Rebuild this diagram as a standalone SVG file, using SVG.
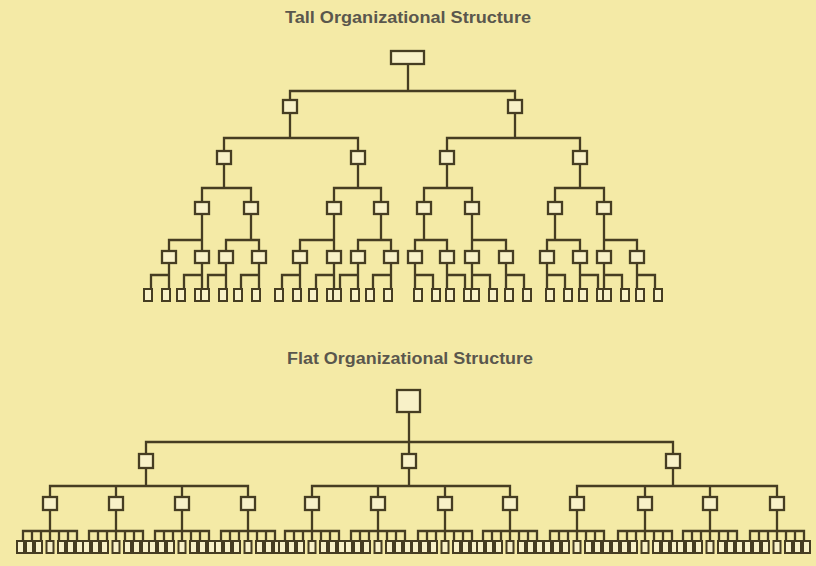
<svg xmlns="http://www.w3.org/2000/svg" width="816" height="566" viewBox="0 0 816 566">
<style>
.bg{fill:#f4eaa6}
.n{fill:#f8f1c8;stroke:#463d22;stroke-width:2.3}
.lf{fill:#f8f1c8;stroke:#463d22;stroke-width:2}
.c{fill:none;stroke:#463d22;stroke-width:2.3}
.t{font-family:"Liberation Sans",Arial,sans-serif;font-weight:bold;font-size:16px;fill:#5a574d;text-anchor:middle}
</style>
<rect class="bg" x="0" y="0" width="816" height="566"/>
<text class="t" x="408" y="23" textLength="246" lengthAdjust="spacingAndGlyphs">Tall Organizational Structure</text>
<text class="t" x="410" y="364" textLength="246" lengthAdjust="spacingAndGlyphs">Flat Organizational Structure</text>

<g id="connectors">
<path class="c" d="M408 64V91M290 100V91H515V100"/>
<path class="c" d="M290 113V138M224 151V138H358V151M515 113V138M447 151V138H580V151"/>
<path class="c" d="M224 164V188M202 202V188H251V202M358 164V188M334 202V188H381V202M447 164V188M424 202V188H472V202M580 164V188M555 202V188H604V202"/>
<path class="c" d="M202 214V240M169 251V240H202V251M251 214V240M226 251V240H259V251M334 214V240M300 251V240H334V251M381 214V240M358 251V240H391V251M424 214V240M415 251V240H447V251M472 214V240M472 251V240H506V251M555 214V240M547 251V240H580V251M604 214V240M604 251V240H637V251"/>
<path class="c" d="M169 263V289M151 289V275H169M202 263V289M184 289V275H202M226 263V289M208 289V275H226M259 263V289M241 289V275H259M300 263V289M282 289V275H300M334 263V289M316 289V275H334M358 263V289M340 289V275H358M391 263V289M373 289V275H391"/>
<path class="c" d="M415 263V289M433 289V275H415M447 263V289M465 289V275H447M472 263V289M490 289V275H472M506 263V289M524 289V275H506M547 263V289M565 289V275H547M580 263V289M598 289V275H580M604 263V289M622 289V275H604M637 263V289M655 289V275H637"/>
<path class="c" d="M409 412V442M146 454V442H673V454M409 442V454"/>
<path class="c" d="M146 468V486M50 497V486H248V497M116 486V497M182 486V497M409 468V486M312 497V486H510V497M378 486V497M445 486V497M673 468V486M577 497V486H777V497M645 486V497M710 486V497"/>
<path class="c" d="M50 510V541M23 541V531H77V541M32 531V541M41 531V541M59 531V541M68 531V541
M116 510V541M89 541V531H143V541M98 531V541M107 531V541M125 531V541M134 531V541
M182 510V541M155 541V531H209V541M164 531V541M173 531V541M191 531V541M200 531V541
M248 510V541M221 541V531H275V541M230 531V541M239 531V541M257 531V541M266 531V541
M312 510V541M285 541V531H339V541M294 531V541M303 531V541M321 531V541M330 531V541
M378 510V541M351 541V531H405V541M360 531V541M369 531V541M387 531V541M396 531V541
M445 510V541M418 541V531H472V541M427 531V541M436 531V541M454 531V541M463 531V541
M510 510V541M483 541V531H537V541M492 531V541M501 531V541M519 531V541M528 531V541
M577 510V541M550 541V531H604V541M559 531V541M568 531V541M586 531V541M595 531V541
M645 510V541M618 541V531H672V541M627 531V541M636 531V541M654 531V541M663 531V541
M710 510V541M683 541V531H737V541M692 531V541M701 531V541M719 531V541M728 531V541
M777 510V541M750 541V531H804V541M759 531V541M768 531V541M786 531V541M795 531V541"/>
</g>

<g id="t-root"><rect class="n" x="391" y="51" width="33" height="13"/></g>
<g id="t-1-1"><rect class="n" x="283" y="100" width="14" height="13"/></g>
<g id="t-1-2"><rect class="n" x="508" y="100" width="14" height="13"/></g>
<g id="t-2-1"><rect class="n" x="217" y="151" width="14" height="13"/></g>
<g id="t-2-2"><rect class="n" x="351" y="151" width="14" height="13"/></g>
<g id="t-2-3"><rect class="n" x="440" y="151" width="14" height="13"/></g>
<g id="t-2-4"><rect class="n" x="573" y="151" width="14" height="13"/></g>
<g id="t-3-1"><rect class="n" x="195" y="202" width="14" height="12"/></g>
<g id="t-3-2"><rect class="n" x="244" y="202" width="14" height="12"/></g>
<g id="t-3-3"><rect class="n" x="327" y="202" width="14" height="12"/></g>
<g id="t-3-4"><rect class="n" x="374" y="202" width="14" height="12"/></g>
<g id="t-3-5"><rect class="n" x="417" y="202" width="14" height="12"/></g>
<g id="t-3-6"><rect class="n" x="465" y="202" width="14" height="12"/></g>
<g id="t-3-7"><rect class="n" x="548" y="202" width="14" height="12"/></g>
<g id="t-3-8"><rect class="n" x="597" y="202" width="14" height="12"/></g>
<g id="t-4-1"><rect class="n" x="162" y="251" width="14" height="12"/></g>
<g id="t-4-2"><rect class="n" x="195" y="251" width="14" height="12"/></g>
<g id="t-4-3"><rect class="n" x="219" y="251" width="14" height="12"/></g>
<g id="t-4-4"><rect class="n" x="252" y="251" width="14" height="12"/></g>
<g id="t-4-5"><rect class="n" x="293" y="251" width="14" height="12"/></g>
<g id="t-4-6"><rect class="n" x="327" y="251" width="14" height="12"/></g>
<g id="t-4-7"><rect class="n" x="351" y="251" width="14" height="12"/></g>
<g id="t-4-8"><rect class="n" x="384" y="251" width="14" height="12"/></g>
<g id="t-4-9"><rect class="n" x="408" y="251" width="14" height="12"/></g>
<g id="t-4-10"><rect class="n" x="440" y="251" width="14" height="12"/></g>
<g id="t-4-11"><rect class="n" x="465" y="251" width="14" height="12"/></g>
<g id="t-4-12"><rect class="n" x="499" y="251" width="14" height="12"/></g>
<g id="t-4-13"><rect class="n" x="540" y="251" width="14" height="12"/></g>
<g id="t-4-14"><rect class="n" x="573" y="251" width="14" height="12"/></g>
<g id="t-4-15"><rect class="n" x="597" y="251" width="14" height="12"/></g>
<g id="t-4-16"><rect class="n" x="630" y="251" width="14" height="12"/></g>
<g id="t-5-1"><rect class="lf" x="144" y="289" width="8" height="12"/></g>
<g id="t-5-2"><rect class="lf" x="162" y="289" width="8" height="12"/></g>
<g id="t-5-3"><rect class="lf" x="177" y="289" width="8" height="12"/></g>
<g id="t-5-4"><rect class="lf" x="195" y="289" width="8" height="12"/></g>
<g id="t-5-5"><rect class="lf" x="201" y="289" width="8" height="12"/></g>
<g id="t-5-6"><rect class="lf" x="219" y="289" width="8" height="12"/></g>
<g id="t-5-7"><rect class="lf" x="234" y="289" width="8" height="12"/></g>
<g id="t-5-8"><rect class="lf" x="252" y="289" width="8" height="12"/></g>
<g id="t-5-9"><rect class="lf" x="275" y="289" width="8" height="12"/></g>
<g id="t-5-10"><rect class="lf" x="293" y="289" width="8" height="12"/></g>
<g id="t-5-11"><rect class="lf" x="309" y="289" width="8" height="12"/></g>
<g id="t-5-12"><rect class="lf" x="327" y="289" width="8" height="12"/></g>
<g id="t-5-13"><rect class="lf" x="333" y="289" width="8" height="12"/></g>
<g id="t-5-14"><rect class="lf" x="351" y="289" width="8" height="12"/></g>
<g id="t-5-15"><rect class="lf" x="366" y="289" width="8" height="12"/></g>
<g id="t-5-16"><rect class="lf" x="384" y="289" width="8" height="12"/></g>
<g id="t-5-17"><rect class="lf" x="414" y="289" width="8" height="12"/></g>
<g id="t-5-18"><rect class="lf" x="432" y="289" width="8" height="12"/></g>
<g id="t-5-19"><rect class="lf" x="446" y="289" width="8" height="12"/></g>
<g id="t-5-20"><rect class="lf" x="464" y="289" width="8" height="12"/></g>
<g id="t-5-21"><rect class="lf" x="471" y="289" width="8" height="12"/></g>
<g id="t-5-22"><rect class="lf" x="489" y="289" width="8" height="12"/></g>
<g id="t-5-23"><rect class="lf" x="505" y="289" width="8" height="12"/></g>
<g id="t-5-24"><rect class="lf" x="523" y="289" width="8" height="12"/></g>
<g id="t-5-25"><rect class="lf" x="546" y="289" width="8" height="12"/></g>
<g id="t-5-26"><rect class="lf" x="564" y="289" width="8" height="12"/></g>
<g id="t-5-27"><rect class="lf" x="579" y="289" width="8" height="12"/></g>
<g id="t-5-28"><rect class="lf" x="597" y="289" width="8" height="12"/></g>
<g id="t-5-29"><rect class="lf" x="603" y="289" width="8" height="12"/></g>
<g id="t-5-30"><rect class="lf" x="621" y="289" width="8" height="12"/></g>
<g id="t-5-31"><rect class="lf" x="636" y="289" width="8" height="12"/></g>
<g id="t-5-32"><rect class="lf" x="654" y="289" width="8" height="12"/></g>

<g id="f-root"><rect class="n" x="397" y="390" width="23" height="22"/></g>
<g id="f-1-1"><rect class="n" x="139" y="454" width="14" height="14"/></g>
<g id="f-1-2"><rect class="n" x="402" y="454" width="14" height="14"/></g>
<g id="f-1-3"><rect class="n" x="666" y="454" width="14" height="14"/></g>
<g id="f-2-1"><rect class="n" x="43" y="497" width="14" height="13"/></g>
<g id="f-2-2"><rect class="n" x="109" y="497" width="14" height="13"/></g>
<g id="f-2-3"><rect class="n" x="175" y="497" width="14" height="13"/></g>
<g id="f-2-4"><rect class="n" x="241" y="497" width="14" height="13"/></g>
<g id="f-2-5"><rect class="n" x="305" y="497" width="14" height="13"/></g>
<g id="f-2-6"><rect class="n" x="371" y="497" width="14" height="13"/></g>
<g id="f-2-7"><rect class="n" x="438" y="497" width="14" height="13"/></g>
<g id="f-2-8"><rect class="n" x="503" y="497" width="14" height="13"/></g>
<g id="f-2-9"><rect class="n" x="570" y="497" width="14" height="13"/></g>
<g id="f-2-10"><rect class="n" x="638" y="497" width="14" height="13"/></g>
<g id="f-2-11"><rect class="n" x="703" y="497" width="14" height="13"/></g>
<g id="f-2-12"><rect class="n" x="770" y="497" width="14" height="13"/></g>
<g id="f-3-1"><rect class="lf" x="17" y="541" width="7" height="12"/></g>
<g id="f-3-2"><rect class="lf" x="26" y="541" width="7" height="12"/></g>
<g id="f-3-3"><rect class="lf" x="35" y="541" width="7" height="12"/></g>
<g id="f-3-4"><rect class="lf" x="46.5" y="541" width="7" height="12"/></g>
<g id="f-3-5"><rect class="lf" x="58" y="541" width="7" height="12"/></g>
<g id="f-3-6"><rect class="lf" x="67" y="541" width="7" height="12"/></g>
<g id="f-3-7"><rect class="lf" x="76" y="541" width="7" height="12"/></g>
<g id="f-3-8"><rect class="lf" x="83" y="541" width="7" height="12"/></g>
<g id="f-3-9"><rect class="lf" x="92" y="541" width="7" height="12"/></g>
<g id="f-3-10"><rect class="lf" x="101" y="541" width="7" height="12"/></g>
<g id="f-3-11"><rect class="lf" x="112.5" y="541" width="7" height="12"/></g>
<g id="f-3-12"><rect class="lf" x="124" y="541" width="7" height="12"/></g>
<g id="f-3-13"><rect class="lf" x="133" y="541" width="7" height="12"/></g>
<g id="f-3-14"><rect class="lf" x="142" y="541" width="7" height="12"/></g>
<g id="f-3-15"><rect class="lf" x="149" y="541" width="7" height="12"/></g>
<g id="f-3-16"><rect class="lf" x="158" y="541" width="7" height="12"/></g>
<g id="f-3-17"><rect class="lf" x="167" y="541" width="7" height="12"/></g>
<g id="f-3-18"><rect class="lf" x="178.5" y="541" width="7" height="12"/></g>
<g id="f-3-19"><rect class="lf" x="190" y="541" width="7" height="12"/></g>
<g id="f-3-20"><rect class="lf" x="199" y="541" width="7" height="12"/></g>
<g id="f-3-21"><rect class="lf" x="208" y="541" width="7" height="12"/></g>
<g id="f-3-22"><rect class="lf" x="215" y="541" width="7" height="12"/></g>
<g id="f-3-23"><rect class="lf" x="224" y="541" width="7" height="12"/></g>
<g id="f-3-24"><rect class="lf" x="233" y="541" width="7" height="12"/></g>
<g id="f-3-25"><rect class="lf" x="244.5" y="541" width="7" height="12"/></g>
<g id="f-3-26"><rect class="lf" x="256" y="541" width="7" height="12"/></g>
<g id="f-3-27"><rect class="lf" x="265" y="541" width="7" height="12"/></g>
<g id="f-3-28"><rect class="lf" x="274" y="541" width="7" height="12"/></g>
<g id="f-3-29"><rect class="lf" x="279" y="541" width="7" height="12"/></g>
<g id="f-3-30"><rect class="lf" x="288" y="541" width="7" height="12"/></g>
<g id="f-3-31"><rect class="lf" x="297" y="541" width="7" height="12"/></g>
<g id="f-3-32"><rect class="lf" x="308.5" y="541" width="7" height="12"/></g>
<g id="f-3-33"><rect class="lf" x="320" y="541" width="7" height="12"/></g>
<g id="f-3-34"><rect class="lf" x="329" y="541" width="7" height="12"/></g>
<g id="f-3-35"><rect class="lf" x="338" y="541" width="7" height="12"/></g>
<g id="f-3-36"><rect class="lf" x="345" y="541" width="7" height="12"/></g>
<g id="f-3-37"><rect class="lf" x="354" y="541" width="7" height="12"/></g>
<g id="f-3-38"><rect class="lf" x="363" y="541" width="7" height="12"/></g>
<g id="f-3-39"><rect class="lf" x="374.5" y="541" width="7" height="12"/></g>
<g id="f-3-40"><rect class="lf" x="386" y="541" width="7" height="12"/></g>
<g id="f-3-41"><rect class="lf" x="395" y="541" width="7" height="12"/></g>
<g id="f-3-42"><rect class="lf" x="404" y="541" width="7" height="12"/></g>
<g id="f-3-43"><rect class="lf" x="412" y="541" width="7" height="12"/></g>
<g id="f-3-44"><rect class="lf" x="421" y="541" width="7" height="12"/></g>
<g id="f-3-45"><rect class="lf" x="430" y="541" width="7" height="12"/></g>
<g id="f-3-46"><rect class="lf" x="441.5" y="541" width="7" height="12"/></g>
<g id="f-3-47"><rect class="lf" x="453" y="541" width="7" height="12"/></g>
<g id="f-3-48"><rect class="lf" x="462" y="541" width="7" height="12"/></g>
<g id="f-3-49"><rect class="lf" x="471" y="541" width="7" height="12"/></g>
<g id="f-3-50"><rect class="lf" x="477" y="541" width="7" height="12"/></g>
<g id="f-3-51"><rect class="lf" x="486" y="541" width="7" height="12"/></g>
<g id="f-3-52"><rect class="lf" x="495" y="541" width="7" height="12"/></g>
<g id="f-3-53"><rect class="lf" x="506.5" y="541" width="7" height="12"/></g>
<g id="f-3-54"><rect class="lf" x="518" y="541" width="7" height="12"/></g>
<g id="f-3-55"><rect class="lf" x="527" y="541" width="7" height="12"/></g>
<g id="f-3-56"><rect class="lf" x="536" y="541" width="7" height="12"/></g>
<g id="f-3-57"><rect class="lf" x="544" y="541" width="7" height="12"/></g>
<g id="f-3-58"><rect class="lf" x="553" y="541" width="7" height="12"/></g>
<g id="f-3-59"><rect class="lf" x="562" y="541" width="7" height="12"/></g>
<g id="f-3-60"><rect class="lf" x="573.5" y="541" width="7" height="12"/></g>
<g id="f-3-61"><rect class="lf" x="585" y="541" width="7" height="12"/></g>
<g id="f-3-62"><rect class="lf" x="594" y="541" width="7" height="12"/></g>
<g id="f-3-63"><rect class="lf" x="603" y="541" width="7" height="12"/></g>
<g id="f-3-64"><rect class="lf" x="612" y="541" width="7" height="12"/></g>
<g id="f-3-65"><rect class="lf" x="621" y="541" width="7" height="12"/></g>
<g id="f-3-66"><rect class="lf" x="630" y="541" width="7" height="12"/></g>
<g id="f-3-67"><rect class="lf" x="641.5" y="541" width="7" height="12"/></g>
<g id="f-3-68"><rect class="lf" x="653" y="541" width="7" height="12"/></g>
<g id="f-3-69"><rect class="lf" x="662" y="541" width="7" height="12"/></g>
<g id="f-3-70"><rect class="lf" x="671" y="541" width="7" height="12"/></g>
<g id="f-3-71"><rect class="lf" x="677" y="541" width="7" height="12"/></g>
<g id="f-3-72"><rect class="lf" x="686" y="541" width="7" height="12"/></g>
<g id="f-3-73"><rect class="lf" x="695" y="541" width="7" height="12"/></g>
<g id="f-3-74"><rect class="lf" x="706.5" y="541" width="7" height="12"/></g>
<g id="f-3-75"><rect class="lf" x="718" y="541" width="7" height="12"/></g>
<g id="f-3-76"><rect class="lf" x="727" y="541" width="7" height="12"/></g>
<g id="f-3-77"><rect class="lf" x="736" y="541" width="7" height="12"/></g>
<g id="f-3-78"><rect class="lf" x="744" y="541" width="7" height="12"/></g>
<g id="f-3-79"><rect class="lf" x="753" y="541" width="7" height="12"/></g>
<g id="f-3-80"><rect class="lf" x="762" y="541" width="7" height="12"/></g>
<g id="f-3-81"><rect class="lf" x="773.5" y="541" width="7" height="12"/></g>
<g id="f-3-82"><rect class="lf" x="785" y="541" width="7" height="12"/></g>
<g id="f-3-83"><rect class="lf" x="794" y="541" width="7" height="12"/></g>
<g id="f-3-84"><rect class="lf" x="803" y="541" width="7" height="12"/></g>
</svg>
